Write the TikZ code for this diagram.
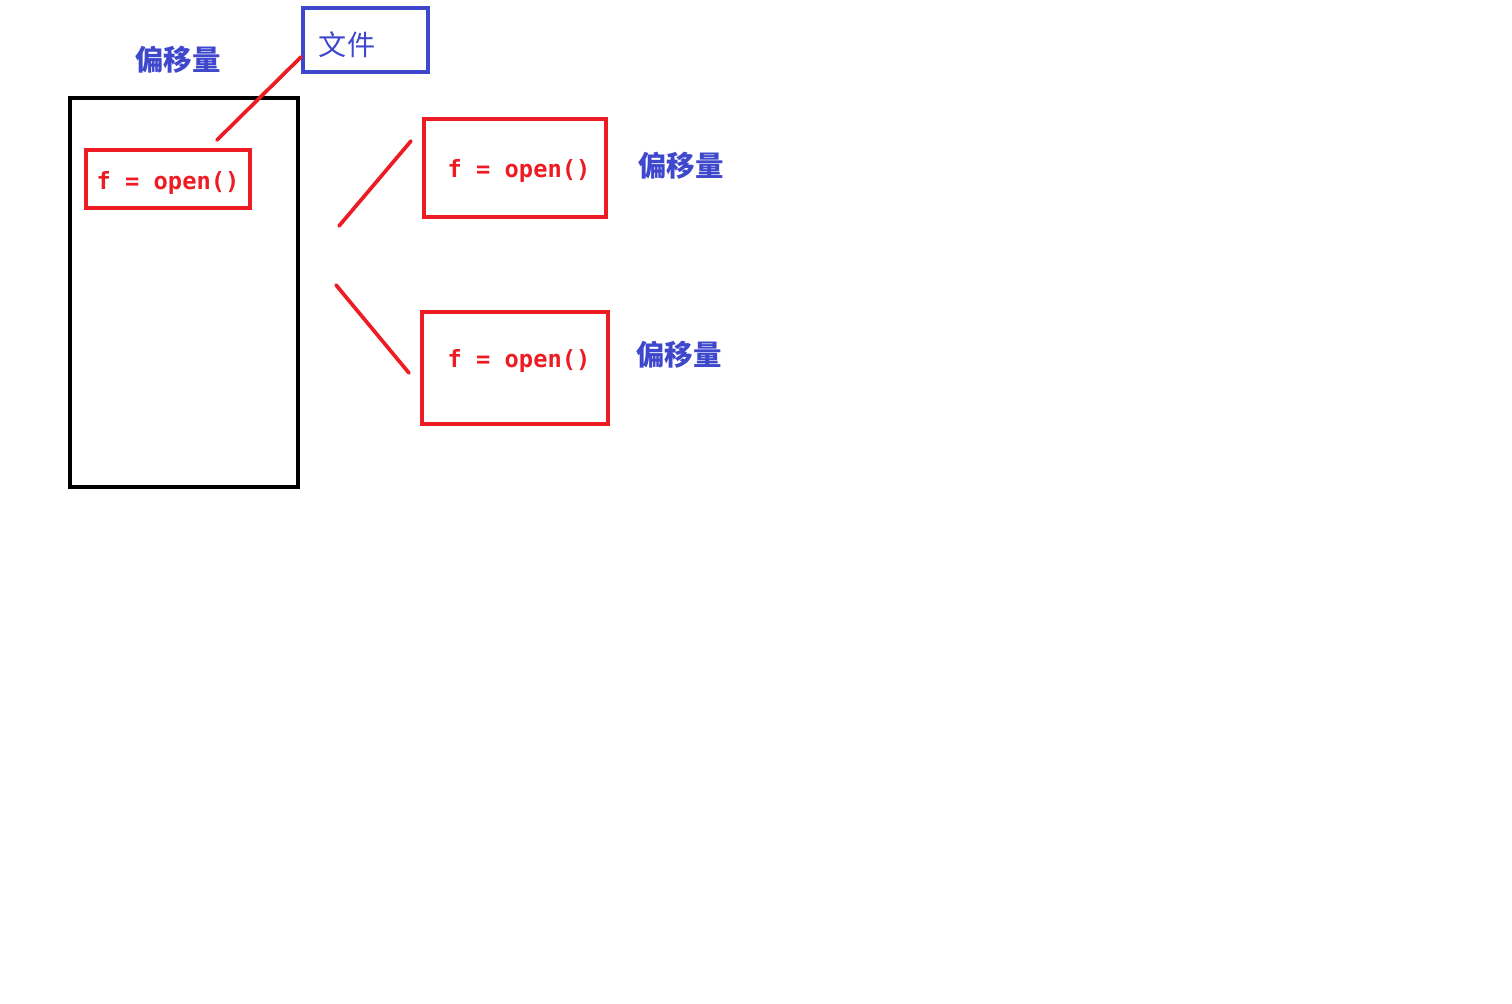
\documentclass[tikz,border=0pt]{standalone}
\usepackage{fontspec}
\newfontfamily\cjk{Noto Sans CJK SC}
\newfontfamily\codefont{DejaVu Sans Mono}
\usepackage{tikz}
\usetikzlibrary{positioning, calc}
\definecolor{paintred}{RGB}{237,28,36}
\definecolor{paintblue}{RGB}{63,72,204}

\begin{document}
\begin{tikzpicture}[x=0.02cm, y=-0.02cm,
	box/.style={draw, line width=2.3pt, inner sep=0pt},
	redbox/.style={box, draw=paintred},
	code/.style={text=paintred, font=\codefont\bfseries\fontsize{13.5}{13.5}\selectfont},
	offsetlabel/.style={text=paintblue, font=\cjk\bfseries\fontsize{16.2}{16.2}\selectfont},
	redline/.style={draw=paintred, line width=2.1pt, line cap=round}]
	\useasboundingbox (0,0) rectangle (1512,1004);
	% left block with the handle
	\node [box, minimum width=4.56cm, minimum height=7.78cm] (mem) at (184,292.5) {};
	\node [redbox, minimum width=3.28cm, minimum height=1.16cm] (box1) at (168,179) {};
	\node [code] (t1) at (168,183) {f = open()};
	\node [offsetlabel] (off1) at (178,60) {偏移量};
	\node [box, draw=paintblue, minimum width=2.5cm, minimum height=1.28cm] (filebox) at (365.5,40) {};
	\node [text=paintblue, font=\cjk\fontsize{16}{16}\selectfont] (file) at (347,45) {文件};
	\coordinate (a1) at (217,140);
	\coordinate (b1) at (301,57);
	\draw [redline] (a1) -- (b1);
	% two more handles
	\node [redbox, minimum width=3.64cm, minimum height=1.96cm] (box2) at (515,168) {};
	\node [redbox, minimum width=3.72cm, minimum height=2.24cm] (box3) at (515,368) {};
	\node [code] (t2) at (519,171) {f = open()};
	\node [code] (t3) at (519,361) {f = open()};
	\coordinate (a2) at (339,226);
	\coordinate (b2) at (411,141);
	\coordinate (a3) at (336,285);
	\coordinate (b3) at (409,373);
	\draw [redline] (a2) -- (b2);
	\draw [redline] (a3) -- (b3);
	\node [offsetlabel] (off2) at (681,166) {偏移量};
	\node [offsetlabel] (off3) at (679,355) {偏移量};
\end{tikzpicture}
\end{document}
